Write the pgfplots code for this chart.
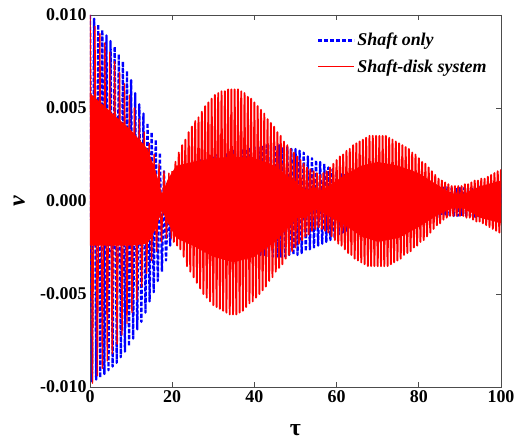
\documentclass[border=0pt]{standalone}
\usepackage{fontspec}
\setmainfont{Liberation Serif}
\usepackage{pgfplots}
\pgfplotsset{compat=1.18}
\definecolor{pureblue}{RGB}{0,0,255}
\definecolor{purered}{RGB}{255,0,0}
\begin{document}
\begin{tikzpicture}
\begin{axis}[
  at={(0,0)}, anchor=south west,
  scale only axis, width=411bp, height=372bp,
  xmin=0, xmax=100, ymin=-0.01, ymax=0.01,
  xtick={0,20,40,60,80,100}, xticklabels={0,20,40,60,80,100},
  ytick={-0.01,-0.005,0,0.005,0.01}, yticklabels={-0.010,-0.005,0.000,0.005,0.010},
  scaled y ticks=false, scaled x ticks=false,
  tick align=inside, xtick pos=both, ytick pos=both, xticklabel pos=left, yticklabel pos=left,
  major tick length=5bp,
  axis line style={draw=black!70, line width=0.9bp},
  tick style={draw=black!70, line width=0.9bp},
  ticklabel style={font=\fontsize{18}{20}\selectfont\bfseries},
  /pgf/number format/assume math mode=true,
  xlabel={τ}, ylabel={\itshape v},
  label style={font=\fontsize{24}{26}\selectfont\bfseries},
  xlabel style={at={(axis description cs:0.5,-0.116)}, anchor=center},
  ylabel style={at={(axis description cs:-0.172,0.5)}, anchor=center},
  legend style={at={(axis description cs:0.545,0.962)}, anchor=north west, draw=none, fill=none, font=\fontsize{18}{20}\selectfont\bfseries\itshape, row sep=8bp},
  legend cell align=left,
  legend image code/.code={\draw[#1, line join=round] (0bp,0bp) -- (36bp,0bp);},
]
\addplot[pureblue, line width=2.3bp, dash pattern=on 4bp off 2bp, line join=round] coordinates {
(0,0.0100)(0.5,-0.0097)(1,0.0098)(1.5,-0.0096)(2,0.0095)(2.5,-0.0095)(3,0.0092)(3.5,-0.0093)(4,0.0089)(4.5,-0.0091)(5,0.0086)(5.5,-0.0089)(6,0.0083)(6.5,-0.0087)(7,0.0079)(7.5,-0.0084)(8,0.0075)(8.5,-0.0081)(9,0.0070)(9.5,-0.0078)(10,0.0065)(10.5,-0.0074)(11,0.0058)(11.5,-0.0069)(12,0.0052)(12.5,-0.0065)(13,0.0047)(13.5,-0.0060)(14,0.0042)(14.5,-0.0054)(15,0.0037)(15.5,-0.0049)(16,0.0033)(16.5,-0.0043)(17,0.0026)(17.5,-0.0038)(18,0.0016)(18.5,-0.0032)(19,0.0004)(19.5,-0.0024)(20,0.0010)(20.5,-0.0006)(21,0.0015)(21.5,-0.0012)(22,0.0017)(22.5,-0.0014)(23,0.0018)(23.5,-0.0016)(24,0.0019)(24.5,-0.0018)(25,0.0020)(25.5,-0.0019)(26,0.0021)(26.5,-0.0020)(27,0.0022)(27.5,-0.0021)(28,0.0023)(28.5,-0.0022)(29,0.0023)(29.5,-0.0023)(30,0.0024)(30.5,-0.0023)(31,0.0025)(31.5,-0.0024)(32,0.0025)(32.5,-0.0025)(33,0.0026)(33.5,-0.0025)(34,0.0026)(34.5,-0.0026)(35,0.0027)(35.5,-0.0026)(36,0.0027)(36.5,-0.0027)(37,0.0028)(37.5,-0.0027)(38,0.0028)(38.5,-0.0028)(39,0.0029)(39.5,-0.0028)(40,0.0029)(40.5,-0.0028)(41,0.0029)(41.5,-0.0029)(42,0.0030)(42.5,-0.0029)(43,0.0030)(43.5,-0.0030)(44,0.0030)(44.5,-0.0030)(45,0.0030)(45.5,-0.0030)(46,0.0030)(46.5,-0.0030)(47,0.0029)(47.5,-0.0030)(48,0.0029)(48.5,-0.0029)(49,0.0028)(49.5,-0.0029)(50,0.0028)(50.5,-0.0029)(51,0.0027)(51.5,-0.0028)(52,0.0026)(52.5,-0.0027)(53,0.0024)(53.5,-0.0026)(54,0.0023)(54.5,-0.0025)(55,0.0022)(55.5,-0.0024)(56,0.0021)(56.5,-0.0023)(57,0.0020)(57.5,-0.0022)(58,0.0018)(58.5,-0.0021)(59,0.0017)(59.5,-0.0020)(60,0.0016)(60.5,-0.0018)(61,0.0015)(61.5,-0.0017)(62,0.0014)(62.5,-0.0016)(63,0.0013)(63.5,-0.0015)(64,0.0013)(64.5,-0.0014)(65,0.0012)(65.5,-0.0013)(66,0.0012)(66.5,-0.0013)(67,0.0012)(67.5,-0.0012)(68,0.0011)(68.5,-0.0012)(69,0.0011)(69.5,-0.0011)(70,0.0011)(70.5,-0.0011)(71,0.0011)(71.5,-0.0011)(72,0.0010)(72.5,-0.0011)(73,0.0010)(73.5,-0.0010)(74,0.0010)(74.5,-0.0010)(75,0.0010)(75.5,-0.0010)(76,0.0010)(76.5,-0.0010)(77,0.0009)(77.5,-0.0010)(78,0.0009)(78.5,-0.0009)(79,0.0009)(79.5,-0.0009)(80,0.0009)(80.5,-0.0009)(81,0.0009)(81.5,-0.0009)(82,0.0009)(82.5,-0.0009)(83,0.0008)(83.5,-0.0009)(84,0.0008)(84.5,-0.0009)(85,0.0008)(85.5,-0.0008)(86,0.0008)(86.5,-0.0008)(87,0.0008)(87.5,-0.0008)(88,0.0007)(88.5,-0.0008)(89,0.0007)(89.5,-0.0008)(90,0.0007)(90.5,-0.0008)(91,0.0007)(91.5,-0.0008)(92,0.0007)(92.5,-0.0008)(93,0.0007)(93.5,-0.0009)(94,0.0007)(94.5,-0.0009)(95,0.0008)(95.5,-0.0009)(96,0.0008)(96.5,-0.0009)(97,0.0008)(97.5,-0.0009)(98,0.0008)(98.5,-0.0010)(99,0.0009)(99.5,-0.0010)(100,0.0009)
};
\addlegendentry{Shaft only}
\addplot[draw=none, fill=purered, forget plot] coordinates {
(0,0.0058)(5,0.0048)(10,0.0038)(14,0.0028)(16,0.0016)(17.5,0.0004)(19,0.0012)(21,0.0019)(25,0.0021)(30,0.0023)(35,0.0024)(40,0.0023)(45,0.0019)(50,0.0010)(54,0.0003)(58,0.0008)(62,0.0014)(66,0.0019)(70,0.0021)(75,0.0019)(80,0.0015)(85,0.0008)(88,0.0004)(91,0.0004)(95,0.0008)(100,0.0011)
(100,-0.0012)(95,-0.0009)(91,-0.0004)(88,-0.0004)(85,-0.0007)(80,-0.0014)(75,-0.0020)(70,-0.0022)(66,-0.0019)(62,-0.0013)(58,-0.0008)(54,-0.0003)(50,-0.0010)(45,-0.0022)(40,-0.0030)(35,-0.0033)(30,-0.0030)(25,-0.0024)(21,-0.0020)(19,-0.0012)(17.5,-0.0005)(16,-0.0015)(14,-0.0023)(10,-0.0024)(5,-0.0024)(0,-0.0024)
} -- cycle;
\addplot[purered, line width=1.3bp, line join=round, forget plot] coordinates {
(0,0.0100)(0.6,-0.0098)(1.2,0.0094)(1.8,-0.0094)(2.4,0.0090)(3,-0.0090)(3.6,0.0085)(4.2,-0.0086)(4.8,0.0080)(5.4,-0.0082)(6,0.0075)(6.6,-0.0077)(7.2,0.0069)(7.8,-0.0072)(8.4,0.0063)(9,-0.0066)(9.6,0.0057)(10.2,-0.0060)(10.8,0.0050)(11.4,-0.0053)(12,0.0044)(12.6,-0.0046)(13.2,0.0037)(13.8,-0.0039)(14.4,0.0031)(15,-0.0032)(15.6,0.0025)(16.2,-0.0027)(16.8,0.0020)(17.4,-0.0022)(18,0.0016)(18.6,-0.0020)(19.2,0.0015)(19.8,-0.0020)(20,0.0016)
};
\addplot[purered, line width=1.9bp, line join=round] coordinates {
(20,0.0016)(20.4,-0.0022)(20.8,0.0021)(21.2,-0.0024)(21.6,0.0026)(22,-0.0026)(22.4,0.0030)(22.8,-0.0030)(23.2,0.0033)(23.6,-0.0035)(24,0.0037)(24.4,-0.0038)(24.8,0.0040)(25.2,-0.0041)(25.6,0.0043)(26,-0.0044)(26.4,0.0045)(26.8,-0.0047)(27.2,0.0048)(27.6,-0.0050)(28,0.0051)(28.4,-0.0052)(28.8,0.0053)(29.2,-0.0054)(29.6,0.0055)(30,-0.0056)(30.4,0.0057)(30.8,-0.0057)(31.2,0.0058)(31.6,-0.0058)(32,0.0059)(32.4,-0.0059)(32.8,0.0059)(33.2,-0.0060)(33.6,0.0060)(34,-0.0061)(34.4,0.0060)(34.8,-0.0061)(35.2,0.0060)(35.6,-0.0061)(36,0.0060)(36.4,-0.0060)(36.8,0.0059)(37.2,-0.0059)(37.6,0.0058)(38,-0.0057)(38.4,0.0056)(38.8,-0.0055)(39.2,0.0055)(39.6,-0.0054)(40,0.0053)(40.4,-0.0052)(40.8,0.0051)(41.2,-0.0050)(41.6,0.0049)(42,-0.0048)(42.4,0.0047)(42.8,-0.0046)(43.2,0.0044)(43.6,-0.0043)(44,0.0042)(44.4,-0.0041)(44.8,0.0040)(45.2,-0.0038)(45.6,0.0037)(46,-0.0036)(46.4,0.0035)(46.8,-0.0034)(47.2,0.0032)(47.6,-0.0031)(48,0.0030)(48.4,-0.0029)(48.8,0.0028)(49.2,-0.0027)(49.6,0.0026)(50,-0.0025)(50.4,0.0024)(50.8,-0.0023)(51.2,0.0022)(51.6,-0.0021)(52,0.0020)(52.4,-0.0019)(52.8,0.0018)(53.2,-0.0018)(53.6,0.0017)(54,-0.0016)(54.4,0.0016)(54.8,-0.0015)(55.2,0.0015)(55.6,-0.0014)(56,0.0014)(56.4,-0.0015)(56.8,0.0015)(57.2,-0.0016)(57.6,0.0016)(58,-0.0017)(58.4,0.0018)(58.8,-0.0019)(59.2,0.0020)(59.6,-0.0021)(60,0.0022)(60.4,-0.0023)(60.8,0.0024)(61.2,-0.0024)(61.6,0.0025)(62,-0.0026)(62.4,0.0027)(62.8,-0.0028)(63.2,0.0028)(63.6,-0.0029)(64,0.0030)(64.4,-0.0031)(64.8,0.0031)(65.2,-0.0032)(65.6,0.0032)(66,-0.0033)(66.4,0.0033)(66.8,-0.0034)(67.2,0.0034)(67.6,-0.0035)(68,0.0035)(68.4,-0.0035)(68.8,0.0035)(69.2,-0.0035)(69.6,0.0035)(70,-0.0035)(70.4,0.0035)(70.8,-0.0035)(71.2,0.0035)(71.6,-0.0035)(72,0.0035)(72.4,-0.0035)(72.8,0.0034)(73.2,-0.0034)(73.6,0.0033)(74,-0.0033)(74.4,0.0032)(74.8,-0.0032)(75.2,0.0031)(75.6,-0.0031)(76,0.0030)(76.4,-0.0029)(76.8,0.0029)(77.2,-0.0028)(77.6,0.0028)(78,-0.0027)(78.4,0.0026)(78.8,-0.0025)(79.2,0.0025)(79.6,-0.0024)(80,0.0023)(80.4,-0.0022)(80.8,0.0021)(81.2,-0.0021)(81.6,0.0020)(82,-0.0019)(82.4,0.0018)(82.8,-0.0017)(83.2,0.0016)(83.6,-0.0015)(84,0.0014)(84.4,-0.0013)(84.8,0.0012)(85.2,-0.0012)(85.6,0.0011)(86,-0.0010)(86.4,0.0010)(86.8,-0.0009)(87.2,0.0009)(87.6,-0.0008)(88,0.0008)(88.4,-0.0008)(88.8,0.0008)(89.2,-0.0008)(89.6,0.0008)(90,-0.0008)(90.4,0.0008)(90.8,-0.0008)(91.2,0.0009)(91.6,-0.0009)(92,0.0009)(92.4,-0.0009)(92.8,0.0010)(93.2,-0.0010)(93.6,0.0011)(94,-0.0011)(94.4,0.0011)(94.8,-0.0011)(95.2,0.0012)(95.6,-0.0012)(96,0.0012)(96.4,-0.0013)(96.8,0.0013)(97.2,-0.0014)(97.6,0.0014)(98,-0.0015)(98.4,0.0015)(98.8,-0.0016)(99.2,0.0016)(99.6,-0.0017)(100,0.0017)
};
\addlegendentry{Shaft-disk system}
\end{axis}
\pgfresetboundingbox
\path (-90bp,-54bp) rectangle (427bp,387bp);
\end{tikzpicture}
\end{document}
